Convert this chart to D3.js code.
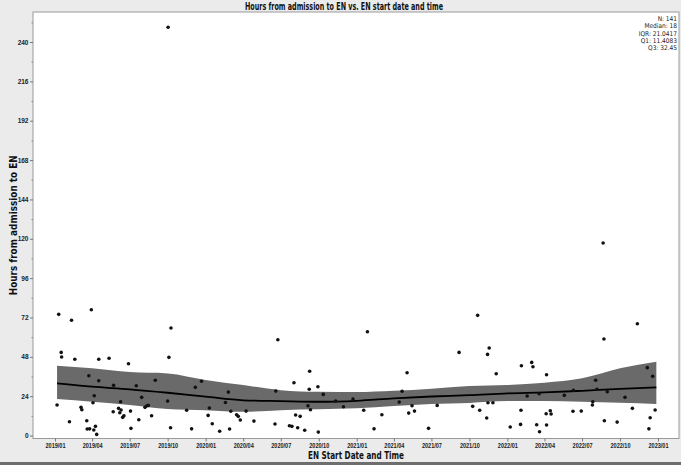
<!DOCTYPE html>
<html>
<head>
<meta charset="utf-8">
<script src="https://cdn.jsdelivr.net/npm/d3@7"></script>
<style>
    html, body { margin: 0; padding: 0; background: #ebebeb; }
    svg { display: block; font-family: "Liberation Sans Narrow", "DejaVu Sans Condensed", "Liberation Sans", sans-serif; }
</style>
</head>
<body>
<div id="chart"></div>
<script>
// EN start dates and hours from admission (one entry per patient)
const enStart = [
    "2019-10-02","2022-08-21","2019-01-10","2019-02-10","2019-03-30","2019-01-16","2019-01-17","2019-02-18","2019-04-17","2019-05-12",
    "2019-10-09","2019-10-04","2020-06-24","2021-01-27","2021-10-21","2022-11-12","2022-08-23","2021-09-06","2021-11-18","2021-11-14",
    "2019-06-28","2019-01-06","2019-02-05","2019-03-05","2019-03-07","2019-03-24","2019-04-17","2019-04-06","2019-04-03","2019-03-19",
    "2019-03-20","2019-03-26","2019-04-05","2019-04-09","2019-04-12","2019-05-23","2019-05-22","2019-06-04","2019-06-07","2019-06-10",
    "2019-06-09","2019-06-14","2019-06-17","2019-07-03","2019-07-04","2019-07-17","2019-07-23","2019-07-30","2019-08-07","2019-08-11",
    "2019-08-15","2019-08-23","2019-09-01","2019-10-01","2019-10-08","2019-11-16","2019-11-28","2019-12-07","2019-12-22","2020-01-07",
    "2020-01-10","2020-01-17","2020-02-04","2020-02-18","2020-02-25","2020-02-28",
    "2020-09-09","2020-08-02","2020-09-08","2020-09-29","2020-10-12","2021-05-03","2021-04-21","2020-06-19","2020-03-02","2020-03-16",
    "2020-03-20","2020-03-25","2020-04-08","2020-04-27","2020-06-17","2020-07-22","2020-07-28","2020-08-06","2020-08-17","2020-08-11",
    "2020-08-28","2020-09-05","2020-09-11","2020-09-30","2020-11-11","2020-11-30","2020-12-23","2021-01-18","2021-02-12","2021-03-03",
    "2021-04-14","2021-05-07","2021-05-15","2021-05-21","2021-06-24","2021-07-15",
    "2021-12-05","2022-02-04","2022-03-01","2022-03-04","2022-04-06","2022-12-06","2022-12-19","2022-08-03","2022-08-06","2022-08-31",
    "2022-06-10","2022-05-19","2022-02-18","2022-03-19","2021-11-15","2021-11-27","2021-10-09","2021-10-26","2021-11-12","2022-01-08",
    "2022-02-03","2022-02-02","2022-03-13","2022-03-20","2022-04-06","2022-04-05","2022-04-15","2022-04-17","2022-06-09","2022-06-29",
    "2022-07-27","2022-07-26","2022-08-24","2022-09-24","2022-10-13","2022-10-31","2022-12-25","2022-12-13","2022-12-10"
];
const hoursToEN = [
    249, 117.4, 73.9, 70.3, 76.7, 50.7, 47.9, 46.5, 46.5, 47.1,
    65.6, 47.7, 58.4, 63.3, 73.3, 68.2, 58.9, 50.7, 53.4, 49.5,
    43.8, 18.6, 8.4, 17.2, 15.7, 36.5, 33.4, 24.3, 20.0, 9.0,
    4.0, 4.1, 3.4, 5.6, 0.7, 30.6, 14.5, 16.6, 13.9, 15.6,
    20.6, 11.1, 12.1, 14.9, 4.4, 30.4, 9.6, 23.3, 17.2, 18.0,
    18.4, 12.1, 33.7, 21.0, 4.8, 15.4, 4.1, 29.4, 33.1, 12.3,
    16.8, 7.2, 2.6, 20.2, 26.5, 4.0,
    39.2, 32.2, 28.2, 29.8, 25.1, 38.3, 27.0, 27.1, 14.8, 12.7,
    11.7, 9.5, 14.9, 8.8, 7.0, 6.0, 5.6, 12.5, 11.7, 4.8,
    3.2, 18.2, 15.7, 2.1, 21.0, 17.6, 22.3, 15.4, 4.1, 12.7,
    20.4, 13.7, 18.2, 14.9, 4.4, 18.4,
    37.7, 42.6, 44.6, 42.0, 37.1, 41.4, 36.1, 33.7, 28.2, 26.7,
    27.6, 24.5, 24.1, 25.5, 20.0, 20.0, 17.8, 15.4, 10.7, 5.2,
    15.4, 6.8, 6.6, 2.3, 6.4, 13.3, 15.1, 13.1, 14.8, 14.9,
    20.6, 18.6, 9.0, 8.2, 23.3, 16.6, 15.6, 10.9, 4.1
];

// smoother fit with confidence band
const fitDates = ["2019-01-06","2019-04-01","2019-07-01","2019-10-01","2020-01-01","2020-04-01","2020-07-01","2020-10-01","2021-01-01",
    "2021-04-01","2021-07-01","2021-10-01","2022-01-01","2022-04-01","2022-07-01","2022-10-01","2022-12-28"];
const fitHours = [31.8, 29.8, 28.2, 26.1, 23.7, 21.5, 21.0, 20.6, 21.2, 22.7, 23.8, 24.6, 25.7, 26.3, 27.3, 28.5, 29.4];
const fitUpper = [42.6, 41.0, 38.7, 37.9, 33.9, 30.8, 27.7, 26.7, 26.5, 27.3, 28.6, 30.2, 30.8, 32.2, 34.9, 41.0, 45.0];
const fitLower = [22.3, 20.6, 18.6, 16.2, 15.5, 14.5, 15.5, 16.0, 16.6, 18.0, 19.2, 19.9, 21.0, 21.0, 20.6, 20.0, 19.2];

const statLines = ["N: 141", "Median: 18", "IQR: 21.0417", "Q1: 11.4083", "Q3: 32.45"];
const yTicks = [0, 24, 48, 72, 96, 120, 144, 168, 192, 216, 240];

const width = 681, height = 465;
const plot = {left: 33, right: 679, top: 12, bottom: 438.5};
const parse = d3.timeParse("%Y-%m-%d");

const points = enStart.map((d, i) => ({date: parse(d), hours: hoursToEN[i]}));
const fit = fitDates.map((d, i) => ({date: parse(d), hours: fitHours[i], lo: fitLower[i], hi: fitUpper[i]}));

const x = d3.scaleTime()
    .domain([parse("2019-01-01"), parse("2023-01-01")])
    .range([55, 658]);

const y = d3.scaleLinear()
    .domain([-1.8, 258.3])
    .range([plot.bottom, plot.top]);

const svg = d3.select("#chart")
    .append("svg")
    .attr("width", width)
    .attr("height", height);

svg.append("rect")
    .attr("width", width).attr("height", height)
    .attr("fill", "#ebebeb");

// bottom edge strip
svg.append("rect")
    .attr("x", 0).attr("y", 462).attr("width", width).attr("height", 3)
    .attr("fill", "#6e6e6e");

svg.append("rect")
    .attr("x", plot.left).attr("y", plot.top)
    .attr("width", plot.right - plot.left).attr("height", plot.bottom - plot.top)
    .attr("fill", "#fff")
    .attr("stroke", "#9a9a9a")
    .attr("stroke-width", 1);

// title
svg.append("text")
    .attr("x", 344).attr("y", 9.5)
    .attr("text-anchor", "middle")
    .attr("font-size", 10)
    .attr("font-weight", "bold")
    .attr("fill", "#111")
    .attr("textLength", 198)
    .attr("lengthAdjust", "spacingAndGlyphs")
    .text("Hours from admission to EN vs. EN start date and time");

// y axis
const yAxis = svg.append("g")
    .attr("transform", `translate(${plot.left},0)`)
    .call(d3.axisLeft(y).tickValues(yTicks).tickSize(3).tickPadding(1.5))
    .call(g => g.select(".domain").remove());
yAxis.selectAll("text").attr("font-size", 6.5).attr("font-weight", "bold").attr("fill", "#222")
    .attr("font-family", "inherit");
yAxis.selectAll("line").attr("stroke", "#777");

svg.append("g")
    .attr("transform", `translate(${plot.left},0)`)
    .call(d3.axisLeft(y).tickValues(d3.range(12, 260, 24)).tickSize(1.5).tickFormat(""))
    .call(g => g.select(".domain").remove())
    .selectAll("line").attr("stroke", "#888");

// x axis
const xAxis = svg.append("g")
    .attr("transform", `translate(0,${plot.bottom})`)
    .call(d3.axisBottom(x).ticks(d3.timeMonth.every(3)).tickFormat(d3.timeFormat("%Y/%m")).tickSize(3).tickPadding(2))
    .call(g => g.select(".domain").remove());
xAxis.selectAll("text").attr("font-size", 6.5).attr("font-weight", "bold").attr("fill", "#222")
    .attr("font-family", "inherit")
    .attr("textLength", 20)
    .attr("lengthAdjust", "spacingAndGlyphs");
xAxis.selectAll("line").attr("stroke", "#777");

// axis titles
svg.append("text")
    .attr("x", 356).attr("y", 459)
    .attr("text-anchor", "middle")
    .attr("font-size", 11)
    .attr("font-weight", "bold")
    .attr("fill", "#111")
    .attr("textLength", 96)
    .attr("lengthAdjust", "spacingAndGlyphs")
    .text("EN Start Date and Time");

svg.append("text")
    .attr("transform", `translate(17,${(plot.top + plot.bottom) / 2}) rotate(-90)`)
    .attr("text-anchor", "middle")
    .attr("font-size", 10.5)
    .attr("font-weight", "bold")
    .attr("fill", "#111")
    .attr("textLength", 140)
    .attr("lengthAdjust", "spacingAndGlyphs")
    .text("Hours from admission to EN");

// confidence band + fit line
svg.append("path")
    .datum(fit)
    .attr("fill", "#6a6a6a")
    .attr("d", d3.area()
        .x(d => x(d.date))
        .y0(d => y(d.lo))
        .y1(d => y(d.hi))
        .curve(d3.curveMonotoneX));

svg.append("path")
    .datum(fit)
    .attr("fill", "none")
    .attr("stroke", "#000")
    .attr("stroke-width", 1.8)
    .attr("d", d3.line()
        .x(d => x(d.date))
        .y(d => y(d.hours))
        .curve(d3.curveMonotoneX));

// scatter
svg.selectAll(".pt")
    .data(points)
    .enter()
    .append("circle")
    .attr("class", "pt")
    .attr("cx", d => x(d.date))
    .attr("cy", d => y(d.hours))
    .attr("r", 1.8)
    .attr("fill", "#111");

// summary stats
svg.append("g")
    .selectAll("text")
    .data(statLines)
    .enter()
    .append("text")
    .attr("x", 677)
    .attr("y", (d, i) => 21 + i * 7.3)
    .attr("text-anchor", "end")
    .attr("font-size", 6.5)
    .attr("fill", "#222")
    .text(d => d);
</script>
</body>
</html>
